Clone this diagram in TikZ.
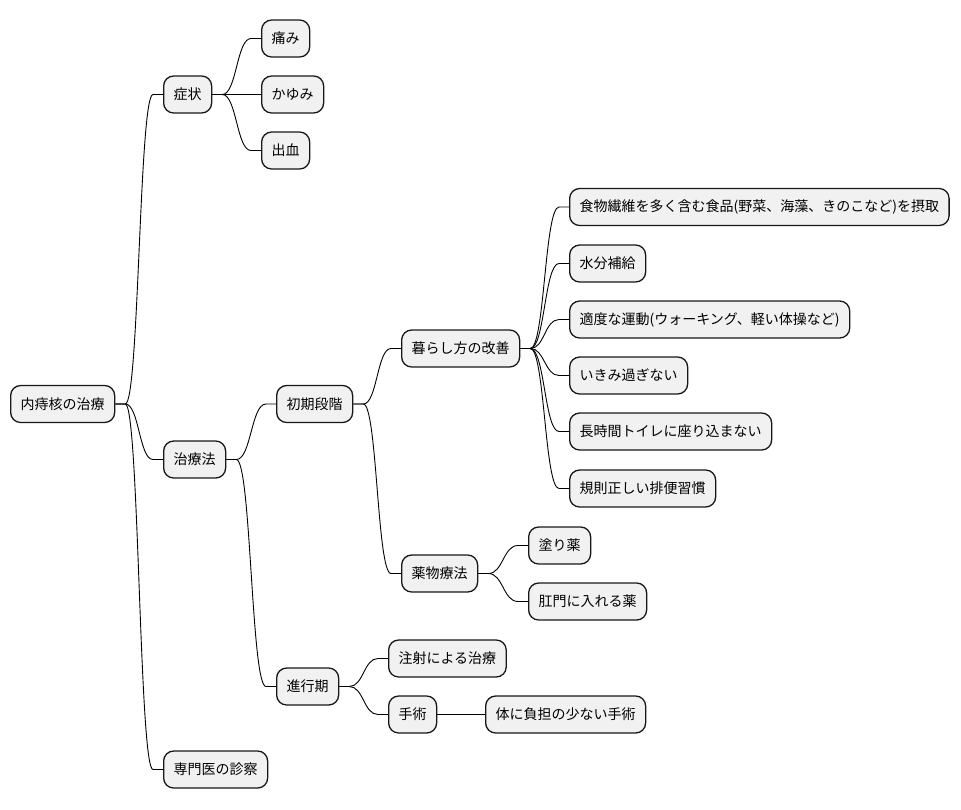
\documentclass[tikz,border=0pt]{standalone}
\usepackage{fontspec}
\setmainfont{Noto Sans CJK JP}
\usetikzlibrary{calc}
\definecolor{boxfill}{HTML}{F1F1F1}
\definecolor{boxline}{HTML}{181818}
\tikzset{
  mm/.style={draw=boxline, fill=boxfill, line width=1.3pt, rounded corners=10pt,
    minimum height=37pt, inner xsep=10pt, inner ysep=0pt, anchor=west,
    font=\fontsize{14}{17}\selectfont, text=black},
  conn/.style={draw=black, line width=0.9pt}
}
\newcommand\mmconn[2]{\draw[conn] let \p1=(#1.east), \p2=(#2.west), \n1={(\x1+\x2)/2} in
  (\p1) -- ++(10pt,0) .. controls (\n1,\y1) and (\n1,\y2) .. ([xshift=-10pt]\p2) -- (\p2);}
\begin{document}
\begin{tikzpicture}[x=1pt,y=-1pt]
\useasboundingbox (0,0) rectangle (961,809);
\node[mm] (root) at (10,404) {内痔核の治療};
\node[mm] (s1) at (163,94.5) {症状};
\node[mm] (s1a) at (261,38.5) {痛み};
\node[mm] (s1b) at (261,94.5) {かゆみ};
\node[mm] (s1c) at (261,150.5) {出血};
\node[mm] (t) at (163,459.5) {治療法};
\node[mm] (t1) at (276,404) {初期段階};
\node[mm] (t11) at (401,348.5) {暮らし方の改善};
\node[mm] (l1) at (569,207) {食物繊維を多く含む食品(野菜、海藻、きのこなど)を摂取};
\node[mm] (l2) at (569,263.5) {水分補給};
\node[mm] (l3) at (569,319.5) {適度な運動(ウォーキング、軽い体操など)};
\node[mm] (l4) at (569,375.5) {いきみ過ぎない};
\node[mm] (l5) at (569,431.5) {長時間トイレに座り込まない};
\node[mm] (l6) at (569,488.5) {規則正しい排便習慣};
\node[mm] (t12) at (401,573.5) {薬物療法};
\node[mm] (m1) at (528,545.5) {塗り薬};
\node[mm] (m2) at (528,601.5) {肛門に入れる薬};
\node[mm] (t2) at (276,686.5) {進行期};
\node[mm] (p1) at (388,658.5) {注射による治療};
\node[mm] (p2) at (388,714.5) {手術};
\node[mm] (p21) at (485,714.5) {体に負担の少ない手術};
\node[mm] (d) at (163,769.5) {専門医の診察};
\mmconn{root}{s1}
\mmconn{root}{t}
\mmconn{root}{d}
\mmconn{s1}{s1a}
\mmconn{s1}{s1b}
\mmconn{s1}{s1c}
\mmconn{t}{t1}
\mmconn{t}{t2}
\mmconn{t1}{t11}
\mmconn{t1}{t12}
\mmconn{t11}{l1}
\mmconn{t11}{l2}
\mmconn{t11}{l3}
\mmconn{t11}{l4}
\mmconn{t11}{l5}
\mmconn{t11}{l6}
\mmconn{t12}{m1}
\mmconn{t12}{m2}
\mmconn{t2}{p1}
\mmconn{t2}{p2}
\mmconn{p2}{p21}
\end{tikzpicture}
\end{document}
